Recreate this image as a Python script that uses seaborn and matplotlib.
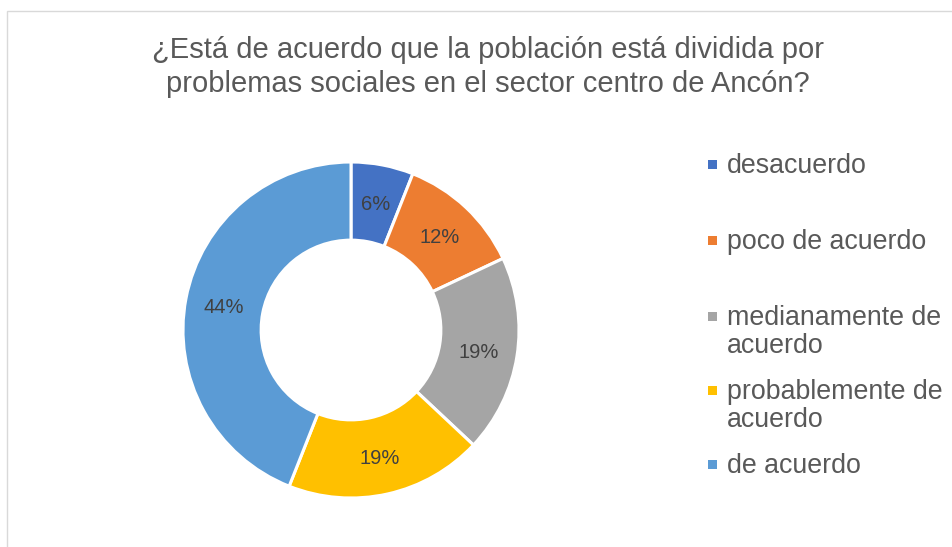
import matplotlib
matplotlib.use("Agg")
import matplotlib.pyplot as plt
from matplotlib.patches import Rectangle
import seaborn as sns

sns.set_theme(style="white")
plt.rcParams['font.family'] = ['Liberation Sans', 'DejaVu Sans']

categories = ["desacuerdo", "poco de acuerdo", "medianamente de\nacuerdo",
              "probablemente de\nacuerdo", "de acuerdo"]
values = [6, 12, 19, 19, 44]
colors = ["#4472C4", "#ED7D31", "#A5A5A5", "#FFC000", "#5B9BD5"]
title = "¿Está de acuerdo que la población está dividida por\nproblemas sociales en el sector centro de Ancón?"

W, H = 953, 547
fig = plt.figure(figsize=(W / 100, H / 100), dpi=100)
fig.patch.set_facecolor("white")

# border
fig.patches.append(Rectangle((7 / W, -0.1), 1.2, (H - 11) / H + 0.1,
                             transform=fig.transFigure, fill=False,
                             edgecolor="#D9D9D9", linewidth=1.0))

cx, cy, r = 351, H - 330, 168
ax = fig.add_axes([(cx - r) / W, (cy - r) / H, 2 * r / W, 2 * r / H])
wedges, texts, autotexts = ax.pie(
    values, colors=colors, startangle=90, counterclock=False, radius=1.0,
    autopct=lambda p: f"{p:.0f}%", pctdistance=0.77,
    wedgeprops=dict(width=0.465, edgecolor="white", linewidth=2.2),
    textprops=dict(color="#404040", fontsize=14.5))
for t in autotexts:
    t.set_va("center_baseline")
ax.set_xlim(-1, 1)
ax.set_ylim(-1, 1)
ax.set_aspect("equal")
ax.axis("off")

fig.text(488 / W, 1 - 67 / H, title, ha="center", va="center",
         fontsize=21, color="#595959", linespacing=1.25)

# legend
ys = [164, 240, 316, 390, 464]
for lab, col, y in zip(categories, colors, ys):
    s = 9
    fig.patches.append(Rectangle(((713 - s / 2) / W, 1 - (y + s / 2) / H), s / W, s / H,
                                 transform=fig.transFigure, facecolor=col, edgecolor="none"))
    fig.text(727 / W, 1 - (y - 11) / H, lab, ha="left", va="top",
             fontsize=19.3, color="#595959", linespacing=1.12)

fig.savefig("out.png", dpi=100)
